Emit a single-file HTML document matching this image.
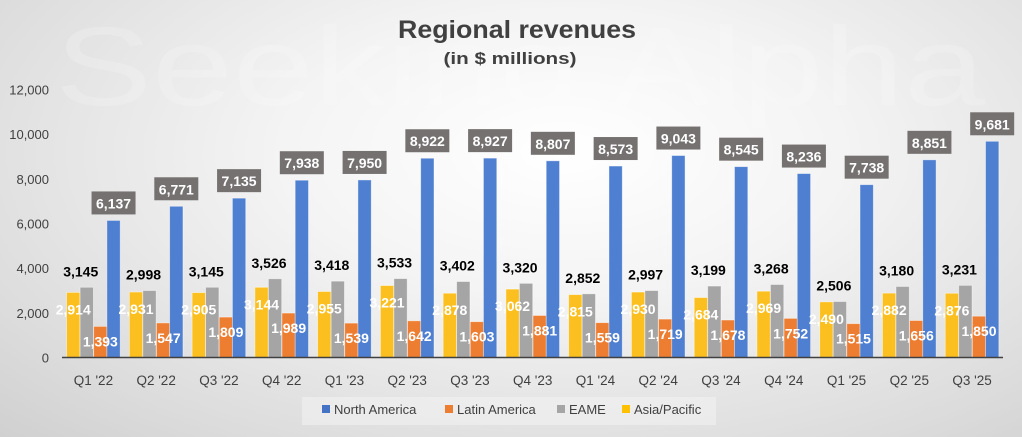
<!DOCTYPE html>
<html><head><meta charset="utf-8"><style>
body{margin:0;}
#c{width:1022px;height:437px;position:relative;overflow:hidden;background:radial-gradient(ellipse at 55% 35%,#ffffff 0%,#f4f4f4 35%,#dcdcdc 80%,#d0d0d0 100%);font-family:"Liberation Sans",sans-serif;}
svg{position:absolute;left:0;top:0;}
</style></head><body>
<div id="c">
<svg id="s" width="1022" height="437">
<text x="520" y="105" text-anchor="middle" font-size="112" fill="#ffffff" fill-opacity="0.18" textLength="930" lengthAdjust="spacingAndGlyphs">Seeking Alpha</text>
<text x="517" y="38" text-anchor="middle" font-size="25" font-weight="bold" fill="#404040" textLength="238" lengthAdjust="spacingAndGlyphs">Regional revenues</text>
<text x="510" y="64" text-anchor="middle" font-size="17" font-weight="bold" fill="#404040" textLength="133" lengthAdjust="spacingAndGlyphs">(in $ millions)</text>
<rect x="302" y="397" width="414" height="28" fill="#f2f2f2" fill-opacity="0.6"/>
<g id="g"></g>
</svg>
</div>
<script>
const categories=["Q1 '22","Q2 '22","Q3 '22","Q4 '22","Q1 '23","Q2 '23","Q3 '23","Q4 '23","Q1 '24","Q2 '24","Q3 '24","Q4 '24","Q1 '25","Q2 '25","Q3 '25"];
const northAmerica=[6137,6771,7135,7938,7950,8922,8927,8807,8573,9043,8545,8236,7738,8851,9681];
const latinAmerica=[1393,1547,1809,1989,1539,1642,1603,1881,1559,1719,1678,1752,1515,1656,1850];
const eame=[3145,2998,3145,3526,3418,3533,3402,3320,2852,2997,3199,3268,2506,3180,3231];
const asiaPacific=[2914,2931,2905,3144,2955,3221,2878,3062,2815,2930,2684,2969,2490,2882,2876];
const yTicks=[0,2000,4000,6000,8000,10000,12000];
const legendNames=["North America","Latin America","EAME","Asia/Pacific"];
const NS="http://www.w3.org/2000/svg";
const g=document.getElementById('g');
const y0=357.5,yMax=12000,yTop=89.5;
function yS(v){return y0-(v/yMax)*(y0-yTop);}
const firstC=93.4,step=62.76;
function xS(i){return firstC+i*step;}
const fmt=v=>v.toLocaleString('en-US');
function el(t,a,txt){const e=document.createElementNS(NS,t);for(const k in a)e.setAttribute(k,a[k]);if(txt!=null)e.textContent=txt;g.appendChild(e);return e;}
yTicks.forEach(v=>{
 const t=el('text',{x:49,y:yS(v)+5,'text-anchor':'end','font-size':13,fill:'#404040'},fmt(v));
 
 
});
const bw=13.3;
const cols={ap:'#fbc020',ea:'#a5a5a5',la:'#ed7d31',na:'#4f7fd0'};
categories.forEach((c,i)=>{
 const cx=xS(i);
 const xs=[cx-26.8,cx-13.3,cx+0.3,cx+13.5];
 const sets=[[asiaPacific,cols.ap,'bar-asia-pacific'],[eame,cols.ea,'bar-eame'],[latinAmerica,cols.la,'bar-latin-america'],[northAmerica,cols.na,'bar-north-america']];
 sets.forEach((s,k)=>{
  const v=s[0][i];const top=yS(v);
  const r=el('rect',{x:xs[k],y:top,width:bw,height:y0-top,fill:s[1],stroke:'#ffffff','stroke-opacity':0.5,'stroke-width':0.8});
  
  
 });
 const bx=xs[3]+bw/2, nt=yS(northAmerica[i]);
 const box=el('rect',{x:bx-22,y:nt-29,width:44,height:23,fill:'#767171'});
 
 
 const tn=el('text',{x:bx,y:nt-12,'text-anchor':'middle','font-size':14,'font-weight':'bold',fill:'#fff'},fmt(northAmerica[i]));
 
 
 const te=el('text',{x:xs[1]+bw/2-6,y:yS(eame[i])-11,'text-anchor':'middle','font-size':14,'font-weight':'bold',fill:'#000'},fmt(eame[i]));
 
 
 const ta=el('text',{x:xs[0]+bw/2,y:yS(asiaPacific[i])+22,'text-anchor':'middle','font-size':14,'font-weight':'bold',fill:'#fff'},fmt(asiaPacific[i]));
 
 
 const tl=el('text',{x:xs[2]+bw/2,y:yS(latinAmerica[i])+20,'text-anchor':'middle','font-size':14,'font-weight':'bold',fill:'#fff'},fmt(latinAmerica[i]));
 
 
 const tx=el('text',{x:cx,y:385,'text-anchor':'middle','font-size':13.5,fill:'#404040'},c);
 
 
});
const ax=el('line',{x1:62,x2:1003,y1:y0,y2:y0,stroke:'#404040','stroke-width':1.5});


const lx=[322,445,557,622],lc=['#4472c4','#ed7d31','#a5a5a5','#ffc000'];
legendNames.forEach((n,k)=>{
 const m=el('rect',{x:lx[k],y:405,width:8,height:8,fill:lc[k]});
 
 
 const t=el('text',{x:lx[k]+12,y:414,'font-size':13,fill:'#404040'},n);
 
 
});
</script>
</body></html>
